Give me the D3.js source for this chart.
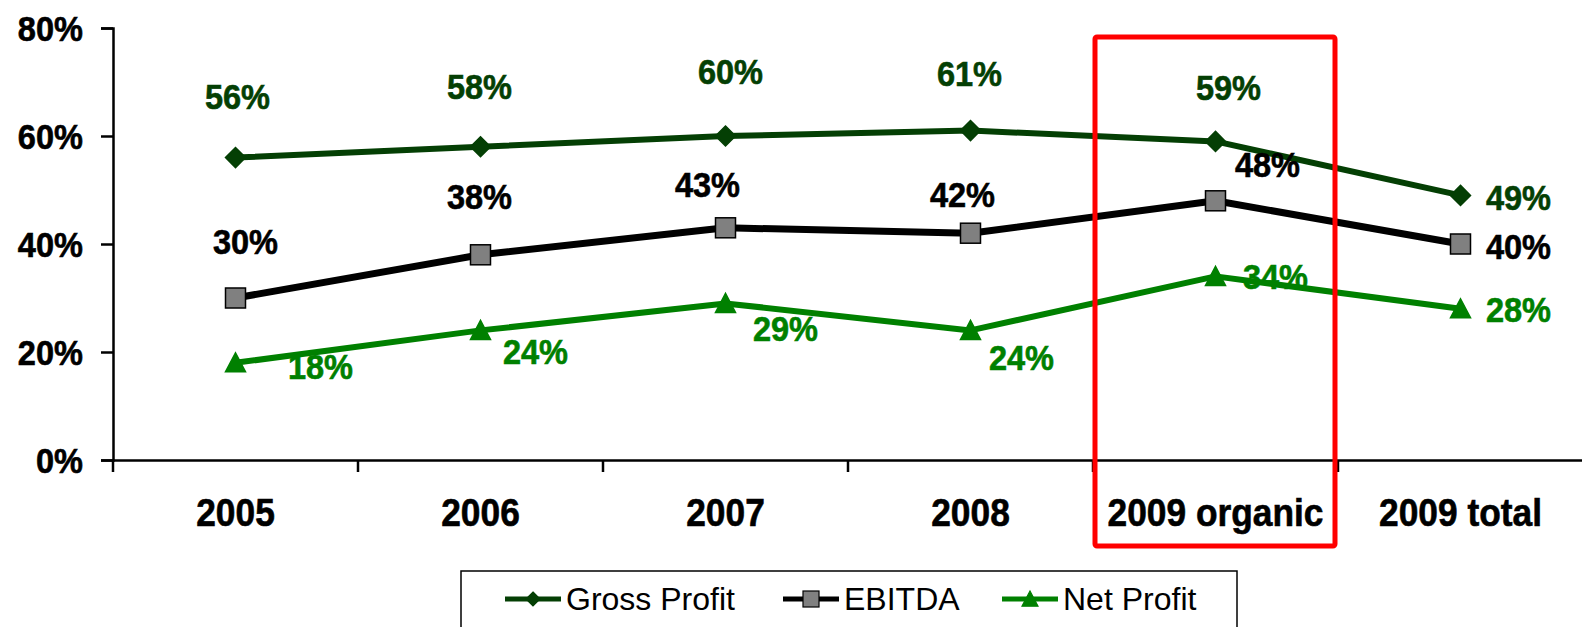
<!DOCTYPE html>
<html>
<head>
<meta charset="utf-8">
<script src="https://cdn.jsdelivr.net/npm/d3@7"></script>
<style>
  body { margin: 0; background: #fff; }
  svg { display: block; }
  text { font-family: "Liberation Sans", Arial, sans-serif; }
</style>
</head>
<body>
<div id="chart"></div>
<script>
// data
var categories = ["2005", "2006", "2007", "2008", "2009 organic", "2009 total"];
var grossProfit = [56, 58, 60, 61, 59, 49];
var ebitda = [30, 38, 43, 42, 48, 40];
var netProfit = [18, 24, 29, 24, 34, 28];
var yTicks = [0, 20, 40, 60, 80];
var highlighted = "2009 organic";

// label nudges (manually placed labels in the original)
var grossNudge = [[2, -61], [-1, -60], [5, -65], [-1, -57], [13, -54], [58, 2]];
var ebitdaNudge = [[10, -57], [-1, -58], [-18, -43], [-8, -39], [52, -36], [58, 2]];
var netNudge = [[85, 4], [55, 21], [60, 25], [51, 27], [60, 0], [58, 1]];

var series = [
    {name: "Gross Profit", values: grossProfit, nudge: grossNudge, color: "#043f04", width: 6, marker: "diamond"},
    {name: "EBITDA", values: ebitda, nudge: ebitdaNudge, color: "#000000", width: 7, marker: "square"},
    {name: "Net Profit", values: netProfit, nudge: netNudge, color: "#008000", width: 6, marker: "triangle"}
];

var W = 1582, H = 627;
var margin = {top: 28, right: -1, bottom: 167, left: 113};
var squeeze = 0.93; // the original text looks a bit condensed

var svg = d3.select("#chart").append("svg")
    .attr("width", W)
    .attr("height", H);

svg.append("rect").attr("width", W).attr("height", H).attr("fill", "#fff");

var x = d3.scaleBand()
    .domain(categories)
    .range([margin.left, W - margin.right]);

var y = d3.scaleLinear()
    .domain([0, 80])
    .range([H - margin.bottom, margin.top]);

function cx(d) { return x(d) + x.bandwidth() / 2; }

// text with condensed width, centred on its cap height
function label(g, px, py, str, size, anchor, color) {
    g.append("text")
        .attr("transform", "translate(" + px + "," + (py + size * 0.358) + ") scale(" + squeeze + ",1)")
        .attr("text-anchor", anchor)
        .attr("font-size", size)
        .attr("font-weight", "bold")
        .attr("fill", color)
        .attr("stroke", color)
        .attr("stroke-width", 0.6)
        .text(str);
}

// y axis
var yAxis = svg.append("g")
    .attr("transform", "translate(" + margin.left + ",0)")
    .call(d3.axisLeft(y).tickValues(yTicks).tickSize(12).tickFormat(""));
yAxis.select(".domain").attr("stroke-width", 2.5);
yAxis.selectAll(".tick line").attr("stroke-width", 2.5);
yTicks.forEach(function (t) {
    label(svg, 83, y(t), t + "%", 35, "end", "#000");
});

// x axis
var xAxis = svg.append("g")
    .attr("transform", "translate(0," + y(0) + ")")
    .call(d3.axisBottom(x).tickSize(0).tickFormat(""));
xAxis.select(".domain").attr("stroke-width", 2.5);
// category boundary ticks
var bounds = categories.map(function (c) { return x(c); });
xAxis.selectAll(".bound")
    .data(bounds)
    .enter().append("line")
    .attr("x1", function (d) { return d; })
    .attr("x2", function (d) { return d; })
    .attr("y1", 0)
    .attr("y2", 12)
    .attr("stroke", "#000")
    .attr("stroke-width", 2.5);
categories.forEach(function (c) {
    label(svg, cx(c), 512, c, 38, "middle", "#000");
});

// markers
var symbols = {
    diamond: function (g, px, py, s) {
        g.append("path")
            .attr("d", "M" + px + "," + (py - s) + "L" + (px + s) + "," + py + "L" + px + "," + (py + s) + "L" + (px - s) + "," + py + "Z");
    },
    square: function (g, px, py, s) {
        g.append("rect").attr("x", px - s).attr("y", py - s).attr("width", 2 * s).attr("height", 2 * s);
    },
    triangle: function (g, px, py, s) {
        g.append("path")
            .attr("d", "M" + px + "," + (py - s) + "L" + (px + s) + "," + (py + s * 0.9) + "L" + (px - s) + "," + (py + s * 0.9) + "Z");
    }
};
var markerStyle = {
    diamond: {fill: "#043f04", stroke: "#043f04", size: 10},
    square: {fill: "#808080", stroke: "#000", size: 10},
    triangle: {fill: "#008000", stroke: "#008000", size: 10}
};

var line = d3.line()
    .x(function (d, i) { return cx(categories[i]); })
    .y(function (d) { return y(d); });

series.forEach(function (s) {
    svg.append("path")
        .attr("d", line(s.values))
        .attr("fill", "none")
        .attr("stroke", s.color)
        .attr("stroke-width", s.width)
        .attr("stroke-linejoin", "round");
    var st = markerStyle[s.marker];
    var mg = svg.append("g").attr("fill", st.fill).attr("stroke", st.stroke).attr("stroke-width", 1.5);
    s.values.forEach(function (v, i) {
        symbols[s.marker](mg, cx(categories[i]), y(v), st.size);
    });
});

// value labels
series.forEach(function (s) {
    s.values.forEach(function (v, i) {
        label(svg, cx(categories[i]) + s.nudge[i][0], y(v) + s.nudge[i][1], v + "%", 35, "middle", s.color);
    });
});

// highlight box round 2009 organic
svg.append("rect")
    .attr("x", x(highlighted) + 2)
    .attr("y", y(80) + 9)
    .attr("width", x.bandwidth() - 5)
    .attr("height", 546 - (y(80) + 9))
    .attr("rx", 2)
    .attr("fill", "none")
    .attr("stroke", "#ff0000")
    .attr("stroke-width", 5);

// legend
var legend = svg.append("g");
legend.append("rect")
    .attr("x", 461).attr("y", 571)
    .attr("width", 776).attr("height", 80)
    .attr("fill", "#fff")
    .attr("stroke", "#000")
    .attr("stroke-width", 1.5);
var legendX = [505, 783, 1002];
series.forEach(function (s, i) {
    var lx = legendX[i], ly = 599;
    legend.append("line")
        .attr("x1", lx).attr("x2", lx + 56)
        .attr("y1", ly).attr("y2", ly)
        .attr("stroke", s.color)
        .attr("stroke-width", 5);
    var st = markerStyle[s.marker];
    var mg = legend.append("g").attr("fill", st.fill).attr("stroke", st.stroke).attr("stroke-width", 1.2);
    symbols[s.marker](mg, lx + 28, ly, s.marker === "diamond" ? 7 : 8);
    legend.append("text")
        .attr("x", lx + 61)
        .attr("y", ly + 11)
        .attr("font-size", 32)
        .attr("fill", "#000")
        .text(s.name);
});
</script>
</body>
</html>
